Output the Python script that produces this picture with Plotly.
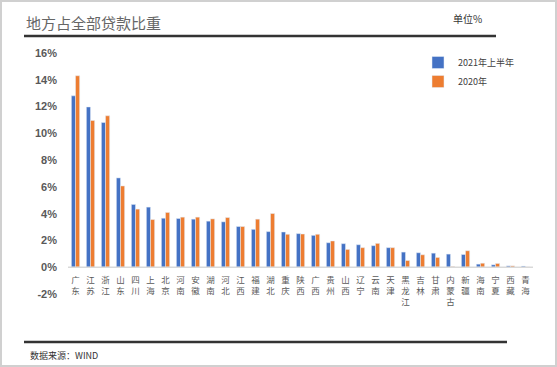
import plotly.graph_objects as go

provinces = ["广东", "江苏", "浙江", "山东", "四川", "上海", "北京", "河南", "安徽", "湖南",
             "河北", "江西", "福建", "湖北", "重庆", "陕西", "广西", "贵州", "山西", "辽宁",
             "云南", "天津", "黑龙江", "吉林", "甘肃", "内蒙古", "新疆", "海南", "宁夏", "西藏", "青海"]
h1_2021 = [12.8, 11.97, 10.81, 6.67, 4.69, 4.49, 3.66, 3.64, 3.59, 3.44,
           3.39, 3.04, 2.83, 2.66, 2.63, 2.51, 2.38, 1.83, 1.76, 1.68,
           1.61, 1.46, 1.13, 1.08, 1.05, 0.98, 0.95, 0.23, 0.18, 0.10, 0.08]
y_2020 = [14.3, 10.96, 11.31, 6.07, 4.34, 3.56, 4.09, 3.74, 3.74, 3.61,
          3.71, 3.04, 3.59, 4.01, 2.46, 2.48, 2.46, 1.96, 1.33, 1.46,
          1.78, 1.46, 0.50, 0.93, 0.73, 0.05, 1.23, 0.30, 0.28, 0.10, 0.02]
series_names = ["2021年上半年", "2020年"]
y_ticks = [-2, 0, 2, 4, 6, 8, 10, 12, 14, 16]

W, H = 557, 367
L, R, T, B = 68, 24, 53, 73
pw, ph = W - L - R, H - T - B
y_min, y_max = -2, 16

def px(x):
    return (x - L) / pw

def py(y):
    return (H - B - y) / ph

labels = ["<br>".join(list(p)) for p in provinces]

fig = go.Figure()
fig.add_bar(x=labels, y=[v / 100 for v in h1_2021], name=series_names[0], marker_color="#4472C4")
fig.add_bar(x=labels, y=[v / 100 for v in y_2020], name=series_names[1], marker_color="#ED7D31")

fig.update_layout(
    width=W, height=H,
    margin=dict(l=L, r=R, t=T, b=B, autoexpand=False),
    paper_bgcolor="white", plot_bgcolor="white",
    barmode="group", bargap=0.45, bargroupgap=0,
    font=dict(family="Noto Sans CJK SC", color="#595959"),
    showlegend=True,
    legend=dict(x=px(418), y=py(48), xanchor="left", yanchor="top",
                font=dict(size=9, color="#404040"), bgcolor="rgba(0,0,0,0)",
                tracegroupgap=0, itemwidth=30),
)
fig.update_yaxes(range=[y_min / 100, y_max / 100], tickvals=[v / 100 for v in y_ticks],
                 ticktext=[f"{v}%" for v in y_ticks], showgrid=False, zeroline=False,
                 showline=False, ticks="", ticklabelstandoff=10,
                 tickfont=dict(family="Liberation Sans", size=11, color="#595959", weight="bold"))
fig.update_xaxes(showgrid=False, showline=False, ticks="", tickangle=0,
                 anchor="free", position=(0 - y_min) / (y_max - y_min),
                 ticklabelstandoff=6,
                 tickfont=dict(family="Noto Sans CJK SC", size=8.5, color="#595959"))

shapes = [
    dict(type="line", xref="paper", yref="y", x0=0, x1=1, y0=0, y1=0,
         line=dict(color="#D9D9D9", width=1.5)),
    dict(type="line", xref="paper", yref="paper", x0=px(24), x1=px(496), y0=py(36), y1=py(36),
         line=dict(color="#333333", width=2.5)),
    dict(type="line", xref="paper", yref="paper", x0=px(24), x1=px(507), y0=py(342), y1=py(342),
         line=dict(color="#333333", width=2.5)),
    dict(type="rect", xref="paper", yref="paper", x0=px(1), x1=px(556), y0=py(1), y1=py(366),
         line=dict(color="#D0D0D0", width=2)),
]
fig.update_layout(shapes=shapes)

fig.add_annotation(text="地方占全部贷款比重", xref="paper", yref="paper", x=px(24), y=py(22),
                   xanchor="left", yanchor="middle", showarrow=False,
                   font=dict(family="Noto Sans CJK SC", size=15, color="#666666"))
fig.add_annotation(text="单位%", xref="paper", yref="paper", x=px(484), y=py(18),
                   xanchor="right", yanchor="middle", showarrow=False,
                   font=dict(family="Noto Sans CJK SC", size=10, color="#333333"))
fig.add_annotation(text="数据来源：WIND", xref="paper", yref="paper", x=px(28), y=py(355),
                   xanchor="left", yanchor="middle", showarrow=False,
                   font=dict(family="Noto Sans CJK SC", size=9, color="#333333"))

fig.write_html("out.html", config={"displayModeBar": False},
               post_script="document.body.style.margin='0';document.body.style.overflow='hidden';")
